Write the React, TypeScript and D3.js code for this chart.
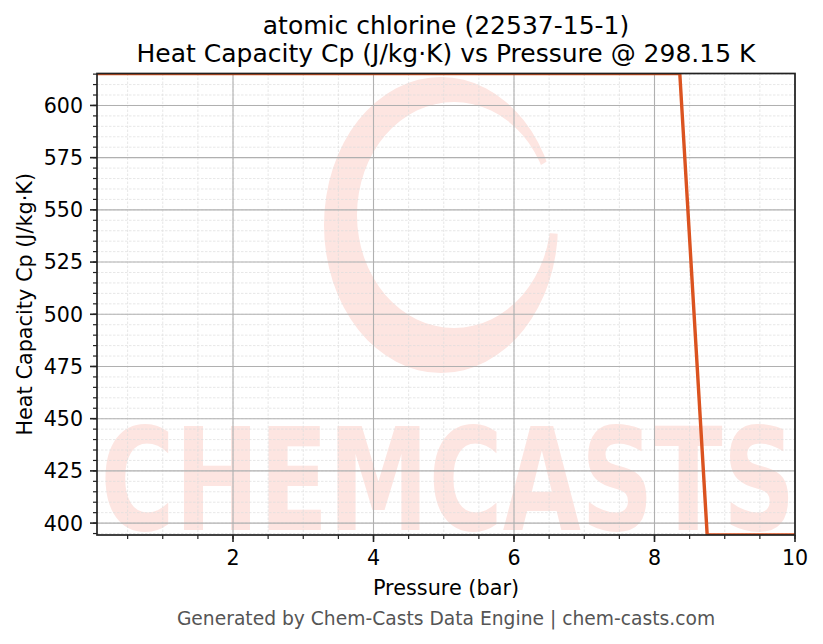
import React from 'react';
import * as d3 from 'd3';

// pressure (bar) vs heat capacity Cp (J/kg·K) at 298.15 K
const pressure = [0.064, 8.36, 8.75, 10];
const heatCapacity = [615.3, 615.3, 394.3, 394.3];

const xTicks = [2, 4, 6, 8, 10];
const yTicks = [400, 425, 450, 475, 500, 525, 550, 575, 600];

const titleLines = ['atomic chlorine (22537-15-1)', 'Heat Capacity Cp (J/kg·K) vs Pressure @ 298.15 K'];
const xLabel = 'Pressure (bar)';
const yLabel = 'Heat Capacity Cp (J/kg·K)';
const footer = 'Generated by Chem-Casts Data Engine | chem-casts.com';

const W = 823;
const H = 644;
const margin = { top: 73.5, right: 28, bottom: 109, left: 97 };
const FONT = '"DejaVu Sans", sans-serif';
const PINK = '#fde5e1';

export default function App() {
  const innerW = W - margin.left - margin.right;
  const innerH = H - margin.top - margin.bottom;

  const x = d3.scaleLinear().domain([0.064, 10]).range([0, innerW]);
  const y = d3.scaleLinear().domain([394.3, 615.3]).range([innerH, 0]);

  const xMinor = d3.range(0.5, 10.01, 0.5).filter(v => x(v) >= 0);
  const yMinor = d3.range(395, 615.3, 5);

  const line = d3.line<number>()
    .x((_, i) => x(pressure[i]))
    .y(d => y(d));

  // watermark crescent (logo behind the grid)
  const cx = 441 - margin.left, cy = 225 - margin.top;
  const ellipse = (ex: number, ey: number, rx: number, ry: number) =>
    `M${ex - rx},${ey} a${rx},${ry} 0 1,0 ${rx * 2},0 a${rx},${ry} 0 1,0 ${-rx * 2},0 Z`;
  const crescent = ellipse(cx, cy, 117, 148) + ' ' + ellipse(cx + 13, cy - 10, 97, 113);

  return (
    <svg width={W} height={H} style={{ position: 'absolute', left: 0, top: 0, background: '#fff' }}
      fontFamily={FONT}>
      <defs>
        <clipPath id="plot">
          <rect x={0} y={0} width={innerW} height={innerH} />
        </clipPath>
        <mask id="gap">
          <rect x={-100} y={-100} width={1000} height={800} fill="#fff" />
          <polygon points={`${cx},${cy} ${cx + 200},${cy - 120} ${cx + 200},${cy + 15}`} fill="#000" />
        </mask>
      </defs>

      <g transform={`translate(${margin.left},${margin.top})`}>
        {/* watermark */}
        <g clipPath="url(#plot)">
          <path d={crescent} fillRule="evenodd" fill={PINK} mask="url(#gap)" />
          <text x={innerW / 2 + 2} y={530 - margin.top} textAnchor="middle" fontSize={143}
            fontWeight="bold" fill={PINK} textLength={695} lengthAdjust="spacingAndGlyphs">
            CHEMCASTS
          </text>
        </g>

        {/* minor grid */}
        {xMinor.map(v => (
          <line key={'xm' + v} x1={x(v)} x2={x(v)} y1={0} y2={innerH}
            stroke="#dcdcdc" strokeWidth={0.7} strokeDasharray="2.5,1.5" />
        ))}
        {yMinor.map(v => (
          <line key={'ym' + v} x1={0} x2={innerW} y1={y(v)} y2={y(v)}
            stroke="#dcdcdc" strokeWidth={0.7} strokeDasharray="2.5,1.5" />
        ))}
        {/* major grid */}
        {xTicks.map(v => (
          <line key={'xg' + v} x1={x(v)} x2={x(v)} y1={0} y2={innerH} stroke="#b0b0b0" strokeWidth={1.1} />
        ))}
        {yTicks.map(v => (
          <line key={'yg' + v} x1={0} x2={innerW} y1={y(v)} y2={y(v)} stroke="#b0b0b0" strokeWidth={1.1} />
        ))}

        {/* data */}
        <path d={line(heatCapacity) || ''} fill="none" stroke="#db5320" strokeWidth={3.4}
          strokeLinejoin="round" clipPath="url(#plot)" />

        {/* spines */}
        <rect x={0} y={0} width={innerW} height={innerH} fill="none" stroke="#222" strokeWidth={1.7} />

        {/* x ticks */}
        {xMinor.map(v => (
          <line key={'xmt' + v} x1={x(v)} x2={x(v)} y1={innerH} y2={innerH + 4} stroke="#222" strokeWidth={1.2} />
        ))}
        {xTicks.map(v => (
          <g key={'xt' + v}>
            <line x1={x(v)} x2={x(v)} y1={innerH} y2={innerH + 7} stroke="#222" strokeWidth={1.6} />
            <text x={x(v)} y={innerH + 29.5} textAnchor="middle" fontSize={20.6} fill="#000">{v}</text>
          </g>
        ))}
        {/* y ticks */}
        {yMinor.map(v => (
          <line key={'ymt' + v} x1={-4} x2={0} y1={y(v)} y2={y(v)} stroke="#222" strokeWidth={1.2} />
        ))}
        {yTicks.map(v => (
          <g key={'yt' + v}>
            <line x1={-7} x2={0} y1={y(v)} y2={y(v)} stroke="#222" strokeWidth={1.6} />
            <text x={-14} y={y(v)} dy="0.36em" textAnchor="end" fontSize={20.6} fill="#000">{v}</text>
          </g>
        ))}
      </g>

      {/* labels */}
      <text x={margin.left + innerW / 2} y={595} textAnchor="middle" fontSize={20.8} fill="#000">{xLabel}</text>
      <text transform={`translate(32,${margin.top + innerH / 2}) rotate(-90)`} textAnchor="middle"
        fontSize={20.8} fill="#000">{yLabel}</text>
      {titleLines.map((t, i) => (
        <text key={t} x={margin.left + innerW / 2} y={34 + i * 27.5} textAnchor="middle" fontSize={25} fill="#000">{t}</text>
      ))}
      <text x={margin.left + innerW / 2} y={625} textAnchor="middle" fontSize={18.7} fill="#555">{footer}</text>
    </svg>
  );
}
